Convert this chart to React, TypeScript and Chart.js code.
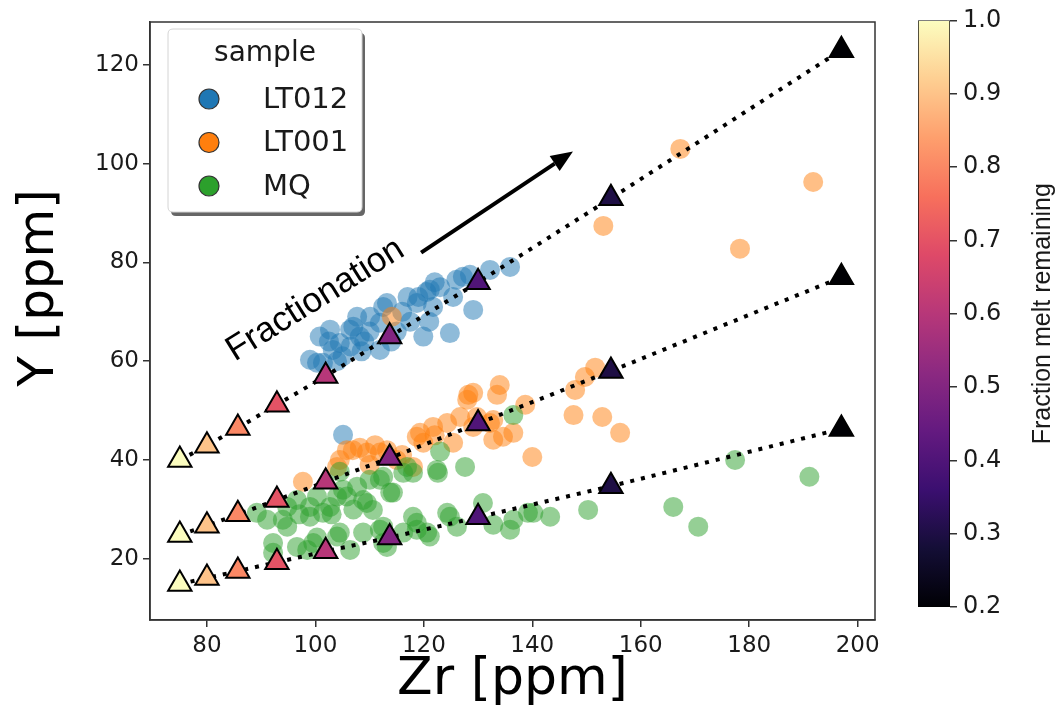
import React, { useEffect, useRef } from 'react';
import { Chart, registerables } from 'chart.js';

Chart.register(...registerables);

// ---------------- data ----------------
const samples = ['LT012', 'LT001', 'MQ'];
const sampleColors = ['#1f77b4', '#ff7f0e', '#2ca02c'];
const sampleFills = ['rgba(31,119,180,0.5)', 'rgba(255,127,14,0.5)', 'rgba(44,160,44,0.5)'];

const lt012Points: [number, number][] = [
  [99.0, 60.3], [100.3, 59.7], [100.8, 65.0], [101.4, 59.7], [102.5, 64.0], [102.7, 66.4], [103.2, 62.3],
  [104.0, 60.0], [104.5, 63.7], [105.0, 61.0], [105.1, 45.1], [106.4, 66.4], [106.5, 63.0], [107.0, 67.0],
  [107.7, 69.0], [108.2, 65.0], [108.5, 62.0], [109.0, 64.0], [110.0, 66.0], [110.1, 69.0], [111.9, 67.8],
  [111.9, 62.3], [112.5, 71.0], [113.2, 71.8], [114.0, 64.0], [115.0, 66.0], [116.0, 70.0], [117.0, 73.0],
  [117.5, 68.0], [118.7, 71.8], [119.0, 73.0], [119.9, 65.0], [120.5, 74.0], [121.0, 68.0], [121.1, 74.5],
  [121.7, 71.0], [122.0, 76.0], [123.0, 75.0], [124.8, 65.7], [125.4, 73.0], [126.0, 76.5], [127.2, 77.1],
  [128.5, 77.5], [129.1, 70.4], [132.2, 78.5], [135.9, 79.1],
];

const lt001Points: [number, number][] = [
  [97.7, 35.6], [104.0, 38.6], [104.5, 40.0], [105.8, 42.0], [106.9, 42.0], [108.2, 42.5], [109.5, 41.5],
  [110.0, 39.0], [111.0, 43.0], [111.9, 41.5], [113.2, 42.0], [114.1, 69.0], [115.0, 40.0], [116.0, 41.0],
  [118.0, 38.6], [118.7, 44.7], [119.3, 45.5], [119.9, 43.5], [121.7, 46.7], [122.0, 45.0], [124.3, 47.5],
  [125.4, 43.5], [126.7, 48.7], [128.0, 52.2], [128.2, 53.2], [129.1, 53.6], [129.1, 46.7], [129.8, 48.7],
  [132.2, 47.5], [132.8, 48.1], [132.8, 44.1], [134.6, 44.7], [133.5, 53.2], [134.0, 55.2], [136.5, 45.5],
  [138.7, 51.2], [140.0, 40.6], [147.6, 49.1], [147.9, 54.2], [149.7, 56.8], [151.6, 58.7], [152.9, 48.7],
  [156.2, 45.5], [153.1, 87.4], [167.3, 103.0], [178.3, 82.8], [191.8, 96.3],
];

const mqPoints: [number, number][] = [
  [89.2, 29.3], [91.1, 27.9], [94.0, 27.9], [94.8, 30.5], [94.8, 26.5], [96.6, 31.9], [97.0, 29.0],
  [99.0, 30.5], [99.0, 28.5], [100.3, 32.6], [101.4, 29.3], [102.7, 30.5], [103.0, 29.0], [104.0, 32.6],
  [104.5, 37.6], [105.1, 34.0], [105.8, 32.6], [107.0, 30.0], [107.7, 34.6], [108.8, 31.9], [109.5, 31.3],
  [110.0, 36.0], [110.6, 29.9], [111.9, 36.0], [112.5, 36.6], [113.8, 33.4], [114.3, 33.4], [116.2, 37.4],
  [116.9, 38.6], [118.0, 37.4], [122.4, 38.0], [122.6, 37.4], [123.0, 41.7], [127.6, 38.6], [136.5, 49.1],
  [92.2, 23.2], [92.2, 21.2], [96.6, 22.4], [98.5, 21.8], [99.6, 23.2], [100.3, 24.3], [104.0, 24.5],
  [104.5, 25.3], [106.4, 21.8], [108.8, 25.3], [111.9, 25.9], [112.5, 26.5], [112.5, 23.2], [113.2, 22.4],
  [116.2, 25.3], [118.0, 28.5], [118.7, 25.9], [118.7, 27.3], [120.6, 25.3], [121.1, 24.5], [124.3, 29.3],
  [124.8, 28.5], [126.1, 26.5], [130.9, 31.3], [132.8, 26.9], [135.9, 25.9], [136.5, 27.9], [139.2, 29.3],
  [140.2, 29.3], [143.3, 28.5], [150.3, 29.9], [166.0, 30.5], [170.6, 26.5], [177.4, 40.0], [191.1, 36.6],
];

// fractional-crystallisation model (triangles)
const modelF = [1.0, 0.9, 0.8, 0.7, 0.6, 0.5, 0.4, 0.3, 0.2];
const modelZr = [75, 80, 85.7, 92.9, 101.9, 113.7, 130, 154.5, 197];
const modelYHigh = [40, 42.9, 46.5, 51.2, 57, 65, 76, 93, 123];
const modelYMid = [24.8, 26.7, 29, 31.9, 35.6, 40.4, 47.4, 58, 77];
const modelYLow = [14.9, 16.1, 17.5, 19.3, 21.5, 24.3, 28.4, 34.7, 46.3];

const xTicks = [80, 100, 120, 140, 160, 180, 200];
const yTicks = [20, 40, 60, 80, 100, 120];
const cbTicks = [0.2, 0.3, 0.4, 0.5, 0.6, 0.7, 0.8, 0.9, 1.0];

const arrowStart = { x: 119.5, y: 82 };
const arrowEnd = { x: 147.5, y: 102.5 };
const fracLabel = { x: 100, y: 72.4, text: 'Fractionation' };

// ---------------- colormap ----------------
const magma = ['#000004', '#140e36', '#3b0f70', '#641a80', '#8c2981', '#b73779', '#de4968', '#f7705c', '#fe9f6d', '#fecf92', '#fcfdbf'];
const hex = (h: string) => [parseInt(h.slice(1, 3), 16), parseInt(h.slice(3, 5), 16), parseInt(h.slice(5, 7), 16)];
function magmaColor(f: number) {
  const t = Math.max(0, Math.min(1, (f - 0.2) / 0.8)) * (magma.length - 1);
  const i = Math.min(magma.length - 2, Math.floor(t));
  const u = t - i;
  const a = hex(magma[i]);
  const b = hex(magma[i + 1]);
  const c = a.map((v, k) => Math.round(v + (b[k] - v) * u));
  return `rgb(${c[0]},${c[1]},${c[2]})`;
}

const TEXT = '#1a1a1a';
const AXIS = '#333333';

export default function App() {
  const mainRef = useRef<HTMLCanvasElement | null>(null);
  const cbRef = useRef<HTMLCanvasElement | null>(null);

  useEffect(() => {
    const toXY = (pts: [number, number][]) => pts.map(([x, y]) => ({ x, y }));
    const scatterDs = [lt012Points, lt001Points, mqPoints].map((pts, i) => ({
      label: samples[i],
      data: toXY(pts),
      backgroundColor: sampleFills[i],
      borderWidth: 0,
      pointRadius: 10,
      order: 4 - i,
    }));
    const modelDs = [modelYHigh, modelYMid, modelYLow].map((ys, k) => ({
      label: 'model' + k,
      data: modelZr.map((x, i) => ({ x, y: ys[i] })),
      showLine: true,
      borderColor: '#000',
      borderWidth: 4,
      borderDash: [4, 7],
      pointStyle: 'triangle',
      pointRadius: 13.5,
      pointBackgroundColor: modelF.map(magmaColor),
      pointBorderColor: '#000',
      pointBorderWidth: 2,
      order: 0,
    }));

    const decor = {
      id: 'decor',
      afterDraw(chart: any) {
        const ctx = chart.ctx as CanvasRenderingContext2D;
        const ca = chart.chartArea;
        const sx = chart.scales.x;
        const sy = chart.scales.y;
        ctx.save();
        // spines
        ctx.strokeStyle = AXIS;
        ctx.lineWidth = 1.5;
        ctx.strokeRect(ca.left, ca.top, ca.right - ca.left, ca.bottom - ca.top);

        // arrow
        const x0 = sx.getPixelForValue(arrowStart.x), y0 = sy.getPixelForValue(arrowStart.y);
        const x1 = sx.getPixelForValue(arrowEnd.x), y1 = sy.getPixelForValue(arrowEnd.y);
        const ang = Math.atan2(y1 - y0, x1 - x0);
        const hl = 22, hw = 9;
        const bx = x1 - hl * Math.cos(ang), by = y1 - hl * Math.sin(ang);
        ctx.strokeStyle = '#000';
        ctx.lineWidth = 4;
        ctx.beginPath();
        ctx.moveTo(x0, y0);
        ctx.lineTo(bx, by);
        ctx.stroke();
        ctx.fillStyle = '#000';
        ctx.beginPath();
        ctx.moveTo(x1, y1);
        ctx.lineTo(bx + hw * Math.sin(ang), by - hw * Math.cos(ang));
        ctx.lineTo(bx - hw * Math.sin(ang), by + hw * Math.cos(ang));
        ctx.closePath();
        ctx.fill();

        // Fractionation label
        ctx.save();
        ctx.translate(sx.getPixelForValue(fracLabel.x), sy.getPixelForValue(fracLabel.y));
        ctx.rotate(-32 * Math.PI / 180);
        ctx.font = '35px "Liberation Sans", Arial, sans-serif';
        ctx.fillStyle = '#000';
        ctx.textAlign = 'center';
        ctx.textBaseline = 'middle';
        ctx.fillText(fracLabel.text, 0, 0);
        ctx.restore();

        // axis titles
        ctx.fillStyle = '#000';
        ctx.font = '52px "DejaVu Sans", sans-serif';
        ctx.textAlign = 'center';
        ctx.textBaseline = 'middle';
        ctx.fillText('Zr [ppm]', (ca.left + ca.right) / 2, 680);
        ctx.font = '50px "DejaVu Sans", sans-serif';
        ctx.save();
        ctx.translate(40, 288);
        ctx.rotate(-Math.PI / 2);
        ctx.fillText('Y [ppm]', 0, 0);
        ctx.restore();

        // legend
        const lx = 168, ly = 29, lw = 194, lh = 183;
        const rr = (x: number, y: number, w: number, h: number, r: number) => {
          ctx.beginPath();
          ctx.moveTo(x + r, y);
          ctx.lineTo(x + w - r, y);
          ctx.quadraticCurveTo(x + w, y, x + w, y + r);
          ctx.lineTo(x + w, y + h - r);
          ctx.quadraticCurveTo(x + w, y + h, x + w - r, y + h);
          ctx.lineTo(x + r, y + h);
          ctx.quadraticCurveTo(x, y + h, x, y + h - r);
          ctx.lineTo(x, y + r);
          ctx.quadraticCurveTo(x, y, x + r, y);
          ctx.closePath();
        };
        ctx.fillStyle = 'rgba(0,0,0,0.6)';
        rr(lx + 3, ly + 4, lw, lh, 5);
        ctx.fill();
        ctx.fillStyle = '#ffffff';
        rr(lx, ly, lw, lh, 5);
        ctx.fill();
        ctx.strokeStyle = '#d4d4d4';
        ctx.lineWidth = 1;
        ctx.stroke();
        ctx.fillStyle = TEXT;
        ctx.font = '28px "DejaVu Sans", sans-serif';
        ctx.textAlign = 'center';
        ctx.textBaseline = 'middle';
        ctx.fillText('sample', 265, 54);
        ctx.font = '29px "DejaVu Sans", sans-serif';
        samples.forEach((s, i) => {
          const yy = 99 + i * 43.5;
          ctx.beginPath();
          ctx.arc(209, yy, 10, 0, Math.PI * 2);
          ctx.fillStyle = sampleColors[i];
          ctx.fill();
          ctx.strokeStyle = '#333';
          ctx.lineWidth = 1.2;
          ctx.stroke();
          ctx.fillStyle = TEXT;
          ctx.textAlign = 'left';
          ctx.fillText(s, 263, yy + 1);
        });
        ctx.restore();
      },
    };

    const tickFont = { family: '"DejaVu Sans", sans-serif', size: 23 };
    const main = new Chart(mainRef.current!, {
      type: 'scatter',
      data: { datasets: [...modelDs, ...scatterDs] as any },
      options: {
        responsive: false,
        animation: false,
        events: [],
        layout: { padding: { left: 0, top: 22, right: 187, bottom: 0 } },
        plugins: { legend: { display: false }, tooltip: { enabled: false } },
        scales: {
          x: {
            type: 'linear',
            min: 69.5,
            max: 203.2,
            afterBuildTicks: (s: any) => { s.ticks = xTicks.map((v) => ({ value: v })); },
            afterFit: (s: any) => { s.height = 97; },
            ticks: { font: tickFont, color: TEXT, padding: 5, maxRotation: 0, autoSkip: false, callback: (v: any) => String(v) },
            grid: { drawOnChartArea: false, drawTicks: true, tickLength: 7, color: AXIS, lineWidth: 1.5 },
            border: { display: true, color: AXIS, width: 1.5 },
          },
          y: {
            type: 'linear',
            min: 7.6,
            max: 128.7,
            afterBuildTicks: (s: any) => { s.ticks = yTicks.map((v) => ({ value: v })); },
            afterFit: (s: any) => { s.width = 150; },
            ticks: { font: tickFont, color: TEXT, padding: 4, autoSkip: false, callback: (v: any) => String(v) },
            grid: { drawOnChartArea: false, drawTicks: true, tickLength: 7, color: AXIS, lineWidth: 1.5 },
            border: { display: true, color: AXIS, width: 1.5 },
          },
        },
      },
      plugins: [decor],
    });

    const cbTitle = {
      id: 'cbTitle',
      afterDraw(chart: any) {
        const ctx = chart.ctx as CanvasRenderingContext2D;
        const ca = chart.chartArea;
        ctx.save();
        ctx.translate(163, (ca.top + ca.bottom) / 2);
        ctx.rotate(-Math.PI / 2);
        ctx.font = '25px "Liberation Sans", Arial, sans-serif';
        ctx.fillStyle = TEXT;
        ctx.textAlign = 'center';
        ctx.textBaseline = 'middle';
        ctx.fillText('Fraction melt remaining', 0, 0);
        ctx.restore();
      },
    };

    const cb = new Chart(cbRef.current!, {
      type: 'bar',
      data: {
        labels: [''],
        datasets: [{
          data: [[cbTicks[0], cbTicks[cbTicks.length - 1]]] as any,
          backgroundColor: (c: any) => {
            const ca = c.chart.chartArea;
            if (!ca) return '#000';
            const g = c.chart.ctx.createLinearGradient(0, ca.bottom, 0, ca.top);
            magma.forEach((m, i) => g.addColorStop(i / (magma.length - 1), m));
            return g;
          },
          borderColor: '#000',
          borderWidth: 1,
          borderSkipped: false,
          barPercentage: 1,
          categoryPercentage: 1,
        }],
      },
      options: {
        responsive: false,
        animation: false,
        events: [],
        layout: { padding: { left: 38, top: 20, right: 0, bottom: 110 } },
        plugins: { legend: { display: false }, tooltip: { enabled: false } },
        scales: {
          x: { display: false },
          y: {
            position: 'right',
            min: 0.2,
            max: 1.0,
            afterBuildTicks: (s: any) => { s.ticks = cbTicks.map((v) => ({ value: v })); },
            afterFit: (s: any) => { s.width = 112; },
            ticks: { font: { family: '"DejaVu Sans", sans-serif', size: 24 }, color: TEXT, padding: 6, callback: (v: any) => Number(v).toFixed(1) },
            grid: { drawOnChartArea: false, drawTicks: true, tickLength: 7, color: AXIS, lineWidth: 1.5 },
            border: { display: false },
          },
        },
      },
      plugins: [cbTitle],
    });

    return () => { main.destroy(); cb.destroy(); };
  }, []);

  return (
    <div style={{ position: 'absolute', left: 0, top: 0, width: 1062, height: 717, background: '#fff' }}>
      <canvas ref={mainRef} width={1062} height={717} style={{ position: 'absolute', left: 0, top: 0 }} />
      <canvas ref={cbRef} width={182} height={717} style={{ position: 'absolute', left: 880, top: 0 }} />
    </div>
  );
}
